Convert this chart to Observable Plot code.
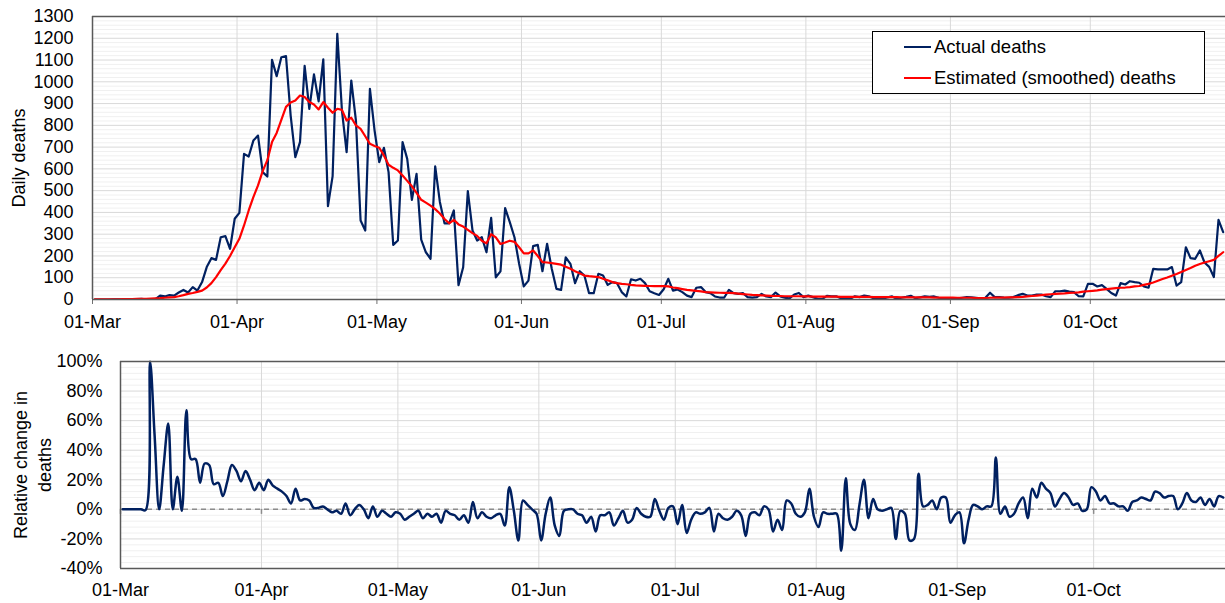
<!DOCTYPE html>
<html><head><meta charset="utf-8">
<script src="https://cdn.jsdelivr.net/npm/d3@7"></script>
<script src="https://cdn.jsdelivr.net/npm/@observablehq/plot@0.6"></script>
<style>
body{margin:0;background:#fff;font-family:"Liberation Sans",Arial,sans-serif;}
#wrap{position:relative;width:1225px;height:603px;overflow:hidden;}
#topPanel,#bottomPanel{position:absolute;left:0;}
#topPanel{top:0}
#bottomPanel{top:340px}
svg [aria-label="x-axis tick"]{stroke:#707070;}
.legend{position:absolute;left:872px;top:31px;width:331px;height:61px;border:1px solid #000;background:#fff;font-size:18.5px;color:#000;}
.legend .sw{position:absolute;left:31px;width:27px;height:2px;}
.legend .tx{position:absolute;left:61px;line-height:20px;white-space:nowrap;}
</style>
</head><body>
<div id="wrap"><div id="topPanel"></div><div id="bottomPanel"></div>
<div class="legend">
<div class="sw" style="top:14px;background:#002060"></div><div class="tx" style="top:5px">Actual deaths</div>
<div class="sw" style="top:45px;background:#ff0000"></div><div class="tx" style="top:36px">Estimated (smoothed) deaths</div>
</div>
</div>
<script>
const startDate = "2020-03-01";
const endDate = "2020-10-30";
const monthTicks = ["2020-03-01","2020-04-01","2020-05-01","2020-06-01","2020-07-01","2020-08-01","2020-09-01","2020-10-01"];
const deathTicks = [0,100,200,300,400,500,600,700,800,900,1000,1100,1200,1300];
const changeTicks = [-40,-20,0,20,40,60,80,100];

const actualDeaths = [
0,0,0,0,1,1,0,1,0,2,3,1,1,2,
18,14,20,18,32,44,32,57,41,80,
149,190,182,286,291,233,371,398,669,657,
730,753,585,565,1101,1026,1113,1118,845,654,
723,1073,876,1034,910,1103,429,567,1220,868,
677,1006,822,363,317,968,776,631,697,585,
251,271,723,646,458,577,275,217,187,612,
448,350,350,409,66,148,498,317,271,286,
217,375,102,129,420,355,286,164,60,87,
245,251,130,256,141,49,44,194,164,75,
130,110,29,29,118,110,67,80,75,34,
14,93,87,95,75,38,29,21,47,95,
41,46,34,18,11,54,57,34,29,14,
9,9,44,29,26,29,11,9,11,26,
14,11,32,14,8,5,23,30,11,18,
11,3,2,17,14,15,6,4,3,15,
11,18,15,6,4,3,10,14,3,8,
12,17,6,10,14,12,14,8,6,2,
3,5,8,11,10,8,5,8,31,11,
11,9,8,11,20,26,18,18,23,23,
15,11,38,38,41,36,34,15,14,72,
72,60,66,49,30,18,75,69,84,80,
77,60,54,141,138,138,138,149,64,80,
240,190,187,225,170,150,103,366,309];

const smoothedDeaths = [
0.5,0.5,0.5,0.5,0.5,1,1.5,1.8,2,2.5,3,3,4,5,
6,8,10,11,15,20,26,30,35,41,
55,75,103,135,165,200,240,279,340,409,
470,524,590,640,723,765,825,885,905,914,
937,930,907,896,873,907,881,858,876,871,
822,835,800,784,750,715,705,697,662,619,
605,593,570,545,520,490,458,445,431,415,
395,370,350,366,345,335,320,305,292,270,
258,300,285,255,262,270,265,240,212,212,
225,200,172,170,167,164,160,150,141,130,
120,110,107,105,103,95,88,80,75,72,
70,67,65,64,63,62,61,61,61,60,
55,52,48,44,42,40,37,34,33,32,
31,30,30,29,27,25,23,21,20,19,
18,17,16,16,15,15,15,15,14,14,
13,13,13,13,13,13,12,12,12,12,
12,12,12,11,11,11,11,11,11,10,
10,10,10,10,10,10,9,9,9,9,
9,8,8,8,8,7,7,7,8,9,
9,9,10,10,11,12,14,16,18,20,
22,24,26,27,28,30,31,33,36,38,
40,42,45,48,50,52,54,55,57,60,
62,67,72,78,86,94,101,109,117,126,
136,145,155,163,170,176,182,200,217];

const relativeChange = [
0,0,0,0,0,-0.5,100,50,0,30,58,0,22,-1,
67,34,34,18,31,30,17,18,9,19,
30,26,19,26,20,13,18,13,20,16,
14,12,9,4,14,6,7,6,1,1,
2,0,-2,-1,-3,4,-4,0,3,0,
-6,2,-5,-1,-3,-5,-2,-3,-7,-5,
-3,-1,-6,-3,-5,-3,-9,-1,-3,-4,
-7,-4,-9,5,-6,-2,-5,-6,-4,-3,
-11,15,-1,-21,6,3,0,-3,-21,-3,
8,-11,-18,-1,0,0,-3,-4,-9,-5,
-15,-4,-4,-2,-11,-6,-1,-9,-7,1,
-3,-5,-5,7,-1,-7,1,2,-10,3,
-16,-7,-2,-3,-2,1,-15,-3,-6,-7,
-5,-1,-4,-18,-3,-2,-4,2,0,-15,
-7,-14,6,4,-3,-5,-2,14,-5,-12,
-2,-3,-3,-3,-28,21,-10,-14,3,20,
-6,7,0,-1,0,1,-20,-1,-3,-21,
-20,24,2,3,6,0,8,8,-9,-4,
-2,-23,-7,3,2,0,2,2,35,-3,
2,-5,-3,4,8,-6,14,8,18,14,
11,2,7,11,8,3,4,-1,0,15,
12,6,9,4,4,2,2,-1,5,6,
8,7,6,12,11,8,9,9,0,4,
11,6,5,8,3,7,2,9,8];

(function () {
const navy = "#002060";
const axisColor = "#595959";
const t0 = new Date(startDate + "T00:00Z");
const t1 = new Date(endDate + "T00:00Z");
const months = monthTicks.map(s => new Date(s + "T00:00Z"));
const dayDate = i => new Date(Date.UTC(2020, 2, 1 + i, 12));
const table = actualDeaths.map((v, i) => ({date: dayDate(i), actual: v, smoothed: smoothedDeaths[i], change: relativeChange[i]}));
const fmt = d3.utcFormat("%d-%b");
const font = {fontFamily: "'Liberation Sans', Arial, sans-serif", fontSize: "18px", color: "#000", background: "#fff", overflow: "visible"};

const minorTop = d3.range(20, 1300, 20).filter(v => v % 100 !== 0);
const minorBottom = d3.range(-40, 100, 4).filter(v => v % 20 !== 0);

const topChart = Plot.plot({
  width: 1225, height: 340,
  marginTop: 16, marginBottom: 41, marginLeft: 92, marginRight: 0,
  style: font,
  x: {type: "utc", domain: [t0, t1], ticks: months, tickFormat: fmt, tickSize: 5, tickPadding: 11, label: null},
  y: {domain: [0, 1300], ticks: deathTicks, tickFormat: d => String(d), tickSize: 0, tickPadding: 19, label: null},
  marks: [
    Plot.ruleY(minorTop, {stroke: "#f0f0f0"}),
    Plot.ruleY(deathTicks, {stroke: "#d9d9d9"}),
    Plot.ruleX(months, {stroke: "#d9d9d9"}),
    Plot.line(table, {x: "date", y: "actual", stroke: navy, strokeWidth: 2.2, clip: true}),
    Plot.line(table, {x: "date", y: "smoothed", stroke: "#ff0000", strokeWidth: 2.2, clip: true}),
    Plot.ruleY([1300], {stroke: axisColor, strokeWidth: 1.5}),
    Plot.ruleY([0], {stroke: axisColor, strokeWidth: 1.5}),
    Plot.ruleX([t0], {stroke: axisColor, strokeWidth: 1.5}),
    Plot.text(["Daily deaths"], {frameAnchor: "left", textAnchor: "middle", lineAnchor: "middle", dx: -73, rotate: -90, text: d => d, fontSize: 18})
  ]
});
document.getElementById("topPanel").appendChild(topChart);

const bottomChart = Plot.plot({
  width: 1225, height: 263,
  marginTop: 21, marginBottom: 35, marginLeft: 120, marginRight: 0,
  style: font,
  x: {type: "utc", domain: [t0, t1], ticks: months, tickFormat: fmt, tickSize: 0, tickPadding: 15, label: null},
  y: {domain: [-40, 100], ticks: changeTicks, tickFormat: d => d + "%", tickSize: 0, tickPadding: 18, label: null},
  marks: [
    Plot.ruleY(minorBottom, {stroke: "#f0f0f0"}),
    Plot.ruleY(changeTicks, {stroke: "#d9d9d9"}),
    Plot.ruleX(months, {stroke: "#d9d9d9"}),
    Plot.ruleY([0], {stroke: "#8c8c8c", strokeWidth: 1.5, strokeDasharray: "5,4"}),
    Plot.ruleX(months, {y1: 0, y2: -3.4, stroke: "#8c8c8c", strokeWidth: 1.5}),
    Plot.line(table, {x: "date", y: "change", stroke: navy, strokeWidth: 2.5, curve: "catmull-rom"}),
    Plot.ruleY([100], {stroke: axisColor, strokeWidth: 1.5}),
    Plot.ruleY([-40], {stroke: axisColor, strokeWidth: 1.5}),
    Plot.ruleX([t0], {stroke: axisColor, strokeWidth: 1.5}),
    Plot.text(["Relative change in\ndeaths"], {frameAnchor: "left", textAnchor: "middle", lineAnchor: "middle", dx: -89, rotate: -90, text: d => d, fontSize: 18, lineHeight: 1.33})
  ]
});
document.getElementById("bottomPanel").appendChild(bottomChart);
})();
</script>
</body></html>
